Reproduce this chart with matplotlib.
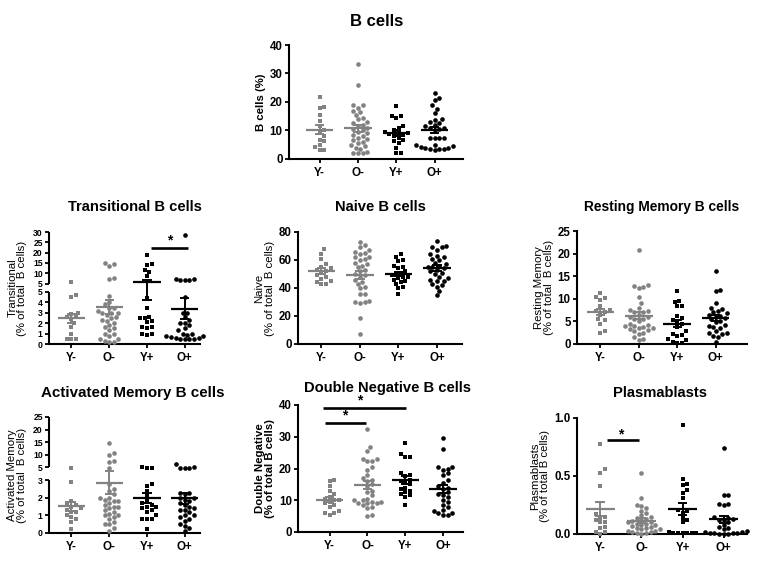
import numpy as np
import matplotlib
matplotlib.use("Agg")
import matplotlib.pyplot as plt
from matplotlib import transforms

plt.rcParams['font.family'] = ['Liberation Sans', 'DejaVu Sans']

groups = ["Y-", "O-", "Y+", "O+"]

# ---------------- data ----------------
bc_Ym = [21.6, 18.4, 17.8, 15.5, 13.5, 11.5, 10.2, 9.3, 8.0, 6.8, 6.2, 5.0, 4.2, 3.0, 3.0]
bc_Om = [33.5, 26, 19, 18.8, 18, 17, 16.5, 15.5, 14.5, 14, 13, 12.5, 12, 11.5, 11, 10.5, 10,
         9.5, 9, 8.5, 8, 7.5, 7, 6.5, 6, 5.5, 5, 4.5, 4, 3.5, 2.5, 2, 2, 2]
bc_Yp = [18.6, 15.2, 15, 14.5, 11.5, 11, 10.3, 9.5, 9.2, 9, 8.8, 8.5, 8, 7.5, 6.5, 6.2, 5.5, 4, 2, 2]
bc_Op = [23.3, 21.5, 20.7, 18.8, 17.6, 16.2, 14, 13.8, 13, 12.6, 12, 11.5, 11, 10.8, 10.5, 10,
         7.5, 7.5, 7.3, 7.2, 5, 4.8, 4.5, 4.2, 4, 3.8, 3.5, 3.5, 3.3, 3.5]

tr_Ym = [5.8, 4.7, 4.5, 3.0, 2.9, 2.6, 2.6, 2.4, 2.0, 1.6, 1.0, 0.5, 0.5, 0.5]
tr_Om = [15, 14.5, 13.5, 7.5, 7, 4.6, 4.0, 3.8, 3.5, 3.5, 3.2, 3.0, 3.0, 3.0, 2.8, 2.6, 2.5, 2.3,
         2.2, 2.0, 1.8, 1.6, 1.5, 1.3, 1.0, 1.0, 0.8, 0.5, 0.5, 0.3, 0.2, 0.2]
tr_Yp = [18.7, 14.7, 13.8, 11.4, 10.6, 8.5, 4.4, 3.5, 2.5, 2.6, 2.5, 2.2, 2.1, 1.6, 1.5, 1.6,
         1.0, 0.9, 1.0]
tr_Op = [28.7, 6.6, 6.6, 6.8, 7.0, 7.0, 4.5, 3.0, 3.0, 2.6, 2.3, 2.0, 2.0, 1.8, 1.5, 1.3, 1.0,
         1.0, 0.9, 0.8, 0.8, 0.7, 0.6, 0.6, 0.5, 0.5, 0.5, 0.5]

nv_Ym = [67.5, 64.5, 60.5, 57, 55, 54, 53, 52, 51, 49, 48, 46.5, 45, 44, 43, 43]
nv_Om = [72.5, 71, 69, 67, 66, 65, 64, 62, 62, 61, 60, 58, 57, 56, 55, 53, 52, 50, 49, 48, 46,
         44, 43, 41, 40, 36, 36, 31, 30, 30, 29.5, 18.5, 7]
nv_Yp = [64.5, 62, 60, 59, 56, 55, 54.5, 52, 51, 50, 49, 48, 48, 47, 46, 45, 44, 43, 41, 40, 35.5]
nv_Op = [73.5, 70, 69, 69, 67, 64, 63, 62, 61, 60, 58, 57, 56, 55, 55, 54, 53, 52, 51, 50, 48,
         47, 46, 45, 45, 43, 42, 41, 38, 35]

rm_Ym = [11.2, 10.5, 10.2, 9.8, 8.5, 7.5, 7.3, 7.0, 6.5, 5.5, 5.3, 4.5, 2.8, 2.5]
rm_Om = [20.7, 13, 12.8, 12.7, 12.5, 10.5, 9, 8, 7.5, 7.2, 7, 7, 6.5, 6, 6, 5.5, 5.5, 5, 4.5,
         4.3, 4, 4, 3.8, 3.5, 3.5, 3.3, 3, 2.8, 2.5, 2.3, 1.5, 1.0, 0.8]
rm_Yp = [11.7, 9.6, 9.3, 8.5, 8.3, 6.3, 5.8, 5.3, 5, 4.5, 3.8, 2.8, 2.2, 2, 1.8, 1, 0.8, 0.5,
         0.3, 0.2]
rm_Op = [16.2, 12, 11.7, 9, 8, 7.7, 7.3, 7, 6.8, 6.5, 6.2, 6, 5.8, 5.5, 5, 4.8, 4.3, 4, 3.8,
         3.5, 2.8, 2.5, 2.5, 2.3, 1.8, 1.5, 0.5]

am_Ym = [4.6, 2.9, 1.8, 1.7, 1.6, 1.5, 1.4, 1.3, 1.2, 1.2, 1.0, 0.9, 0.8, 0.6, 0.2]
am_Om = [14.5, 10.5, 9.8, 7.5, 7.2, 4.6, 2.8, 2.5, 2.4, 2.2, 2.0, 2.0, 1.9, 1.8, 1.8, 1.7, 1.6,
         1.5, 1.5, 1.4, 1.3, 1.2, 1.1, 1.0, 1.0, 0.9, 0.8, 0.6, 0.5, 0.5, 0.3, 0.1]
am_Yp = [5.0, 4.7, 4.7, 2.8, 2.7, 2.4, 2.1, 1.8, 1.7, 1.6, 1.5, 1.5, 1.4, 1.3, 1.2, 1.0, 0.8,
         0.8, 0.8, 0.2]
am_Op = [6.2, 5.0, 4.7, 4.7, 4.7, 2.3, 2.3, 2.2, 2.0, 2.0, 1.9, 1.8, 1.7, 1.6, 1.5, 1.4, 1.3,
         1.3, 1.2, 1.0, 1.0, 0.9, 0.8, 0.7, 0.5, 0.4, 0.3, 0.1]

dn_Ym = [16.5, 16, 14.5, 13, 12, 11, 10.5, 10, 10, 9.5, 9, 8.5, 8, 6.5, 6, 6, 5.5]
dn_Om = [32.3, 26.8, 25.5, 23, 23, 22.5, 22.5, 20.5, 19.5, 18, 17, 16.5, 16, 15, 14.5, 13,
         12.5, 11.5, 10.5, 10, 10, 9.5, 9.5, 9, 9, 9, 8.5, 8, 7.5, 5.5, 5]
dn_Yp = [28, 24.5, 23.5, 23.5, 18.5, 18, 17.5, 16.5, 16, 15.5, 15, 14, 13.5, 13, 12.5, 12,
         11.5, 11, 8.5]
dn_Op = [29.5, 26, 20.5, 20.5, 20, 19.5, 18.5, 18, 16.5, 15.5, 14.5, 14, 13.5, 12.5, 12, 11.5,
         11, 10, 9.5, 8.5, 8, 7, 6.5, 6, 6, 5.5, 5.5]

pb_Ym = [0.78, 0.56, 0.53, 0.41, 0.17, 0.15, 0.14, 0.12, 0.1, 0.1, 0.06, 0.05, 0.02, 0.02, 0.0]
pb_Om = [0.53, 0.31, 0.25, 0.24, 0.22, 0.2, 0.18, 0.16, 0.15, 0.14, 0.13, 0.12, 0.11, 0.1, 0.1,
         0.09, 0.09, 0.08, 0.08, 0.07, 0.06, 0.05, 0.05, 0.04, 0.04, 0.03, 0.03, 0.02, 0.02,
         0.01, 0.01, 0.0]
pb_Yp = [0.94, 0.47, 0.43, 0.42, 0.38, 0.35, 0.31, 0.21, 0.2, 0.18, 0.14, 0.12, 0.1, 0.02,
         0.01, 0.01, 0.01, 0.01, 0.01, 0.01]
pb_Op = [0.74, 0.34, 0.34, 0.26, 0.26, 0.25, 0.15, 0.14, 0.13, 0.12, 0.12, 0.1, 0.08, 0.06,
         0.05, 0.04, 0.03, 0.02, 0.02, 0.01, 0.01, 0.01, 0.01, 0.0, 0.0, 0.0]

# ---------------- style ----------------
GREY = '#828282'
colors = [GREY, GREY, 'black', 'black']
markers = ['s', 'o', 's', 'o']
W, H = 763, 562
fig = plt.figure(figsize=(W / 100, H / 100), dpi=100)

TICK_FS = 8.3
LAB_FS = 8.2


def add_ax(l, r, t, b):
    return fig.add_axes([l / W, 1 - b / H, (r - l) / W, (b - t) / H])


def broken_scale(lo_top, hi_bot, top, gap, h2):
    def fwd(v):
        v = np.asarray(v, dtype=float)
        return np.where(v <= lo_top, v / lo_top, 1 + gap + (v - hi_bot) / (top - hi_bot) * h2)

    def inv(u):
        u = np.asarray(u, dtype=float)
        return np.where(u <= 1, u * lo_top, hi_bot + (u - 1 - gap) / h2 * (top - hi_bot))
    return fwd, inv


def swarm_x(ax, xc, vals, d=4.6):
    vals = np.asarray(vals, dtype=float)
    pts = ax.transData.transform(np.column_stack([np.full(len(vals), xc), vals]))
    x0 = pts[0, 0]
    yp = pts[:, 1]
    order = np.argsort(yp, kind='stable')
    placed = []
    offs = np.zeros(len(vals))
    step = d * 0.5
    for i in order:
        y = yp[i]
        k = 0
        while True:
            cands = [0.0] if k == 0 else [k * step, -k * step]
            ok = None
            for c in cands:
                if all((px - c) ** 2 + (py - y) ** 2 >= d * d for px, py in placed):
                    ok = c
                    break
            if ok is not None:
                offs[i] = ok
                placed.append((ok, y))
                break
            k += 1
    inv = ax.transData.inverted()
    return inv.transform(np.column_stack([x0 + offs, yp]))[:, 0]


def panel(ax, data, title, title_xy, title_fs, ylabel, ylim, yticks, xlim, ylab_bold=False,
          yticklabels=None, breaks=None, ytick_fs=TICK_FS, labelpad=3):
    ax.set_xlim(*xlim)
    if breaks is not None:
        fwd, inv = broken_scale(*breaks)
        ax.set_yscale('function', functions=(fwd, inv))
    ax.set_ylim(*ylim)
    for i, vals in enumerate(data):
        xs = swarm_x(ax, i, vals)
        ax.scatter(xs, vals, s=9.5 if markers[i] == 's' else 11, marker=markers[i],
                   color=colors[i], linewidths=0, zorder=3, clip_on=False)
        v = np.asarray(vals)
        m = v.mean()
        se = v.std(ddof=1) / np.sqrt(len(v))
        ax.plot([i - 0.36, i + 0.36], [m, m], color=colors[i], lw=1.6, zorder=4,
                solid_capstyle='butt')
        ax.plot([i, i], [m - se, m + se], color=colors[i], lw=1.4, zorder=4)
        for yy in (m - se, m + se):
            ax.plot([i - 0.12, i + 0.12], [yy, yy], color=colors[i], lw=1.4, zorder=4,
                    solid_capstyle='butt')
    ax.set_xticks(range(4))
    ax.set_xticklabels(groups, fontsize=TICK_FS, fontweight='bold')
    ax.set_yticks(yticks)
    if yticklabels is None:
        yticklabels = [f"{t:g}" for t in yticks]
    ax.set_yticklabels(yticklabels, fontsize=ytick_fs, fontweight='bold')
    ax.tick_params(axis='both', direction='out', length=3, width=1.3, pad=1.5)
    ax.tick_params(axis='x', pad=3)
    ax.spines['top'].set_visible(False)
    ax.spines['right'].set_visible(False)
    for s in ('left', 'bottom'):
        ax.spines[s].set_linewidth(1.5)
    ax.set_ylabel(ylabel, fontsize=LAB_FS, fontweight='bold' if ylab_bold else 'normal',
                  labelpad=labelpad, linespacing=1.0)
    fig.text(title_xy[0] / W, 1 - title_xy[1] / H, title, ha='center', va='center',
             fontsize=title_fs, fontweight='bold')


# B cells
ax1 = add_ax(289, 463, 45, 159)
panel(ax1, [bc_Ym, bc_Om, bc_Yp, bc_Op], "B cells", (377, 21), 12, "B cells (%)", (0, 40),
      [0, 10, 20, 30, 40], (-0.8, 3.74), ylab_bold=True)

# Transitional (broken axis)
ax2 = add_ax(49, 200, 232, 344)
panel(ax2, [tr_Ym, tr_Om, tr_Yp, tr_Op], "Transitional B cells", (135, 207), 10.6,
      "Transitional\n(% of total  B cells)", (0, 30),
      [0, 1, 2, 3, 4, 5, 5.0001, 10, 15, 20, 25, 30], (-0.59, 3.4),
      yticklabels=['0', '1', '2', '3', '4', '5', '5', '10', '15', '20', '25', '30'],
      breaks=(5, 5, 30, 0.16, 0.99), ytick_fs=6.2, labelpad=4)

# Naive
ax3 = add_ax(298, 462, 232, 344)
panel(ax3, [nv_Ym, nv_Om, nv_Yp, nv_Op], "Naive B cells", (380, 207), 10.6,
      "Naive\n(% of total  B cells)", (0, 80), [0, 20, 40, 60, 80], (-0.61, 3.65))

# Resting memory
ax4 = add_ax(577, 747, 231, 344)
panel(ax4, [rm_Ym, rm_Om, rm_Yp, rm_Op], "Resting Memory B cells", (662, 207), 9.9,
      "Resting Memory\n(% of total  B cells)", (0, 25), [0, 5, 10, 15, 20, 25],
      (-0.61, 3.82))

# Activated memory (broken axis)
ax5 = add_ax(49, 200, 417, 533)
panel(ax5, [am_Ym, am_Om, am_Yp, am_Op], "Activated Memory B cells", (133, 393), 10.9,
      "Activated Memory\n(% of total  B cells)", (0, 25),
      [0, 1, 2, 3, 5, 10, 15, 20, 25], (-0.59, 3.4),
      breaks=(3, 5, 25, 0.25, 0.955), ytick_fs=6.2, labelpad=4)

# Double negative
ax6 = add_ax(298, 463, 405, 532)
panel(ax6, [dn_Ym, dn_Om, dn_Yp, dn_Op], "Double Negative B cells", (387, 388), 10.6,
      "Double Negative\n(% of total B cells)", (0, 40), [0, 10, 20, 30, 40],
      (-0.84, 3.53), ylab_bold=True)

# Plasmablasts
ax7 = add_ax(577, 747, 418, 534)
panel(ax7, [pb_Ym, pb_Om, pb_Yp, pb_Op], "Plasmablasts", (660, 393), 10.6,
      "Plasmablasts\n(% of total B cells)", (0, 1.0), [0.0, 0.5, 1.0], (-0.57, 3.57),
      yticklabels=['0.0', '0.5', '1.0'])

# broken spines
for ax, lo_top, hi_bot, top in ((ax2, 5, 5.0001, 30), (ax5, 3, 5, 25)):
    ax.spines['left'].set_visible(False)
    tr = transforms.blended_transform_factory(ax.transAxes, ax.transData)
    ax.plot([0, 0], [0, lo_top], transform=tr, color='black', lw=1.5, clip_on=False,
            solid_capstyle='butt')
    ax.plot([0, 0], [hi_bot, top], transform=tr, color='black', lw=1.5, clip_on=False,
            solid_capstyle='butt')


# significance bars
def sig(ax, x0, x1, y, ys, xs):
    ax.plot([x0, x1], [y, y], color='black', lw=1.9, clip_on=False, solid_capstyle='butt')
    ax.text(xs, ys, '*', ha='center', va='center', fontsize=10, fontweight='bold',
            clip_on=False)


sig(ax2, 2.1, 3.08, 22.2, 26.0, 2.6)
sig(ax6, -0.13, 0.97, 34.2, 36.8, 0.40)
sig(ax6, -0.18, 2.03, 39.0, 41.4, 0.79)
sig(ax7, 0.16, 0.93, 0.81, 0.86, 0.49)

fig.savefig('out.png', dpi=100)
